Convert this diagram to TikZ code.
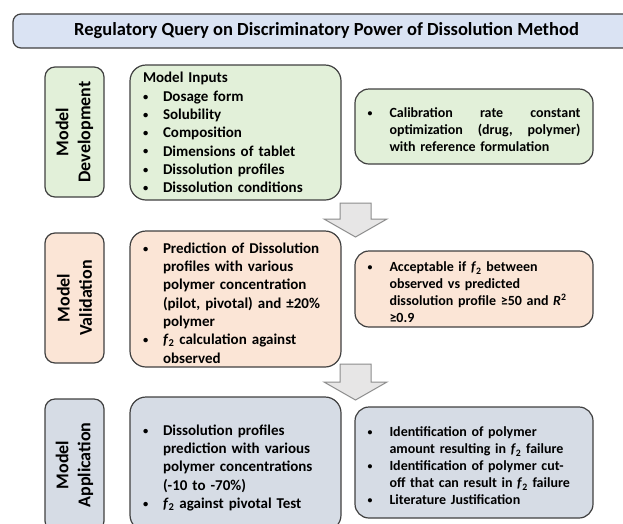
\documentclass[tikz,border=0pt]{standalone}
\usepackage{fontspec}
\usepackage{graphicx}
\setmainfont{Carlito}
\usetikzlibrary{positioning}

\definecolor{titleblue}{HTML}{DAE3F3}
\definecolor{devgreen}{HTML}{E2F0D9}
\definecolor{valorange}{HTML}{FBE5D6}
\definecolor{appblue}{HTML}{D6DCE5}
\definecolor{edgegray}{HTML}{404040}
\definecolor{arrowfill}{HTML}{E7E6E6}
\definecolor{arrowedge}{HTML}{8C8C8C}

\newcommand{\dotmark}{\raisebox{0.15ex}{\scalebox{0.7}{\textbullet}}}
\newcommand{\ftwo}{\textit{f}\textsubscript{2}}
% bullet list with the label flush left in a fixed column
\newenvironment{dotlist}[1][20pt]{%
  \begin{list}{\dotmark}{%
    \setlength{\leftmargin}{#1}\setlength{\labelwidth}{#1}%
    \setlength{\labelsep}{0pt}\setlength{\itemsep}{0pt}%
    \setlength{\parsep}{0pt}\setlength{\topsep}{0pt}%
    \setlength{\partopsep}{0pt}%
    \renewcommand{\makelabel}[1]{##1\hfil}}}%
  {\end{list}}

\tikzset{
  stagebox/.style={draw=edgegray, line width=1.2pt, rounded corners=10pt,
    minimum height=59pt, rotate=90, align=center, inner sep=0pt,
    font=\fontsize{18}{22}\selectfont\bfseries},
  leftbox/.style={draw=edgegray, line width=1.2pt, rounded corners=16pt,
    minimum width=211pt, text width=185pt, inner sep=0pt,
    font=\fontsize{15}{18.3}\selectfont\bfseries},
  rightbox/.style={draw=edgegray, line width=1.2pt, rounded corners=14pt,
    minimum width=238pt, text width=213pt, inner sep=0pt,
    font=\fontsize{14}{17}\selectfont\bfseries},
  bigarrow/.style={draw=arrowedge, fill=arrowfill, line width=1pt}
}

\begin{document}
\begin{tikzpicture}[x=1pt, y=-1pt]

  \clip (0,0) rectangle (623,523);

  \node[draw=edgegray, fill=titleblue, line width=1.2pt, rounded corners=8pt,
        minimum width=627pt, minimum height=34pt, inner sep=0pt,
        font=\fontsize{18.5}{22}\selectfont\bfseries] (query) at (326.5,31)
        {Regulatory Query on Discriminatory Power of Dissolution Method};

  \begin{scope}[every node/.style={stagebox}]
    \node[fill=devgreen, minimum width=130pt] (dev) at (74.5,132) {Model\\Development};
    \node[fill=valorange, minimum width=130pt] (val) at (74.5,298) {Model\\Validation};
    \node[fill=appblue, minimum width=132pt] (app) at (74.5,465) {Model\\Application};
  \end{scope}

  \begin{scope}[every node/.style={leftbox}]
    \node[fill=devgreen, minimum height=135pt] (inputs) at (235.5,132.5)
      {\raggedright Model Inputs
       \begin{dotlist}
         \item Dosage form
         \item Solubility
         \item Composition
         \item Dimensions of tablet
         \item Dissolution profiles
         \item Dissolution conditions
       \end{dotlist}};
    \node[fill=valorange, minimum height=136pt] (predict) at (235.5,299)
      {\raggedright
       \begin{dotlist}
         \item Prediction of Dissolution\\ profiles with various\\ polymer concentration\\ (pilot, pivotal) and ±20\%\\ polymer
         \item \ftwo{} calculation against\\ observed
       \end{dotlist}};
    \node[fill=appblue, minimum height=134pt] (profiles) at (235.5,464)
      {\raggedright
       \begin{dotlist}
         \item Dissolution profiles\\ prediction with various\\ polymer concentrations\\ (-10 to -70\%)
         \item \ftwo{} against pivotal Test
       \end{dotlist}};
  \end{scope}

  \begin{scope}[every node/.style={rightbox}]
    \node[fill=devgreen, minimum height=75pt] (calib) at (474,126.5)
      {\raggedright
       \begin{dotlist}[22pt]
         \item Calibration\hfill rate\hfill constant\\ optimization\hfill (drug,\hfill polymer)\\ with reference formulation
       \end{dotlist}};
    \node[fill=valorange, minimum height=76pt] (accept) at (474,289)
      {\raggedright
       \begin{dotlist}[22pt]
         \item Acceptable if \ftwo{} between\\ observed vs predicted\\ dissolution profile ≥50 and \textit{R}\textsuperscript{2}\\ ≥0.9
       \end{dotlist}};
    \node[fill=appblue, minimum height=111pt] (ident) at (474,462.5)
      {\raggedright
       \begin{dotlist}[22pt]
         \item Identification of polymer\\ amount resulting in \ftwo{} failure
         \item Identification of polymer cut-\\ off that can result in \ftwo{} failure
         \item Literature Justification
       \end{dotlist}};
  \end{scope}

  % block arrows between the stages
  \draw[bigarrow] (340,203) -- (371,203) -- (371,219) -- (387,219) -- (355.5,237)
    -- (324,219) -- (340,219) -- cycle;
  \draw[bigarrow] (340,364) -- (371,364) -- (371,382) -- (387,382) -- (355.5,400)
    -- (324,382) -- (340,382) -- cycle;

\end{tikzpicture}
\end{document}
